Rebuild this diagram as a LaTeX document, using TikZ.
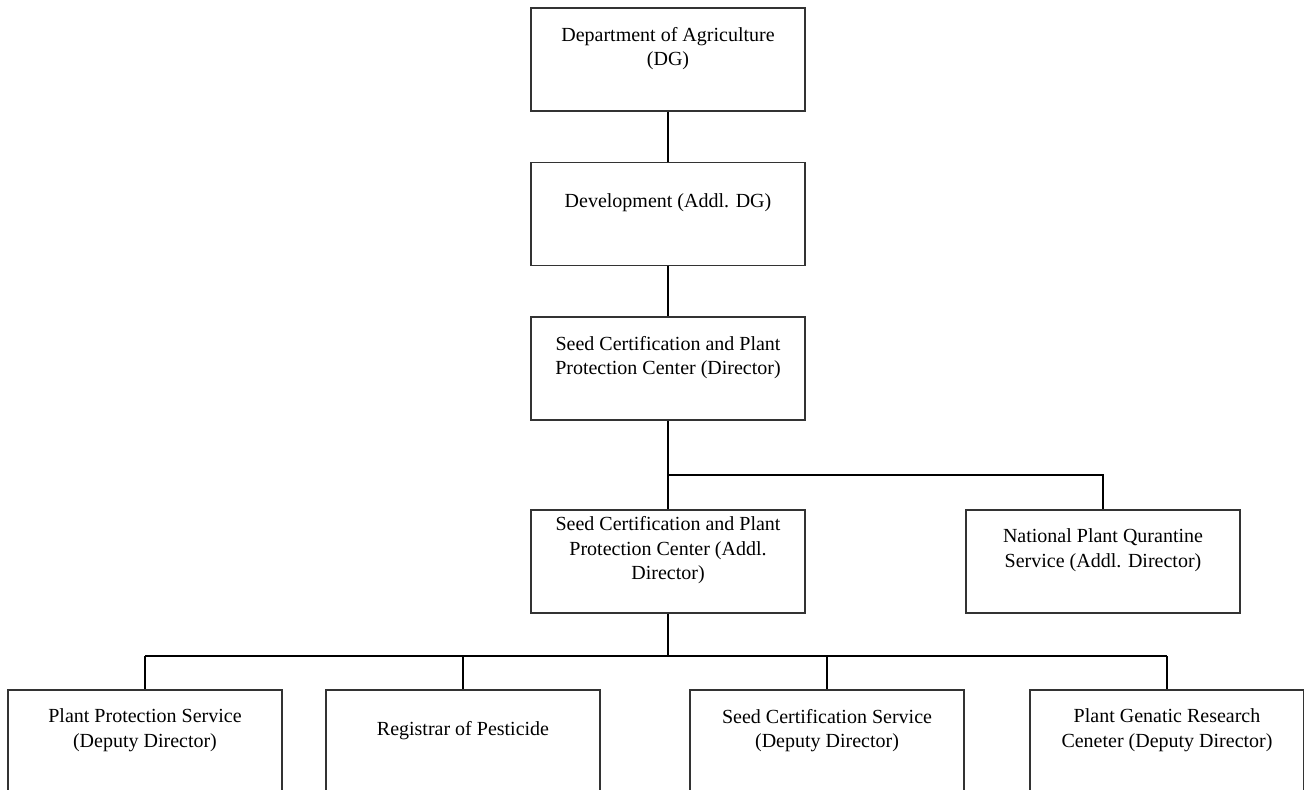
\documentclass[tikz,border=0pt]{standalone}
\usepackage{fontspec}
\setmainfont{Liberation Serif}
\usepackage{tikz}
\usetikzlibrary{arrows,positioning}

\tikzset{
    unit/.style={draw=black!80, line width=0.6pt, minimum width=137pt, minimum height=51.5pt, inner sep=0pt},
    caption/.style={align=center, font=\fontsize{10}{12.25}\selectfont, inner sep=0pt},
    link/.style={line width=0.9pt},
}

\begin{document}
\begin{tikzpicture}[x=0.5pt,y=-0.5pt]
\clip (0,0) rectangle (1304,789);

\node[unit] (dg) at (668,59.5) {};
\node[unit] (dev) at (668,214) {};
\node[unit] (scpc) at (668,368.5) {};
\node[unit] (addl) at (668,561.5) {};
\node[unit] (npq) at (1103,561.5) {};
\node[unit] (pps) at (145,741.5) {};
\node[unit] (reg) at (463,741.5) {};
\node[unit] (scs) at (827,741.5) {};
\node[unit] (pgr) at (1167,741.5) {};

\node[caption] (dg-t) at ([yshift=-20.5pt]dg.north) {Department of Agriculture\\(DG)};
\node[caption] (dev-t) at ([yshift=-20.5pt]dev.north) {Development (Addl. DG)};
\node[caption] (scpc-t) at ([yshift=-20.5pt]scpc.north) {Seed Certification and Plant\\Protection Center (Director)};
\node[caption] (addl-t) at ([yshift=-20.5pt]addl.north) {Seed Certification and Plant\\Protection Center (Addl.\\Director)};
\node[caption] (npq-t) at ([yshift=-20.5pt]npq.north) {National Plant Qurantine\\Service (Addl. Director)};
\node[caption] (pps-t) at ([yshift=-20.5pt]pps.north) {Plant Protection Service\\(Deputy Director)};
\node[caption] (reg-t) at ([yshift=-20.5pt]reg.north) {Registrar of Pesticide};
\node[caption] (scs-t) at ([yshift=-20.5pt]scs.north) {Seed Certification Service\\(Deputy Director)};
\node[caption] (pgr-t) at ([yshift=-20.5pt]pgr.north) {Plant Genatic Research\\Ceneter (Deputy Director)};

\coordinate (qbus) at (668,475);
\coordinate (sbus) at (668,656);

\draw[link] (dg.south) -- (dev.north);
\draw[link] (dev.south) -- (scpc.north);
\draw[link] (scpc.south) -- (addl.north);
\draw[link] (qbus) -| (npq.north);

\draw[link, line width=1.2pt] (addl.south) -- (sbus);
\draw[link] (pps.north |- sbus) -- (pgr.north |- sbus);
\foreach \n in {pps,reg,scs,pgr}
    \draw[link] (\n.north |- sbus) -- (\n.north);

\end{tikzpicture}
\end{document}
